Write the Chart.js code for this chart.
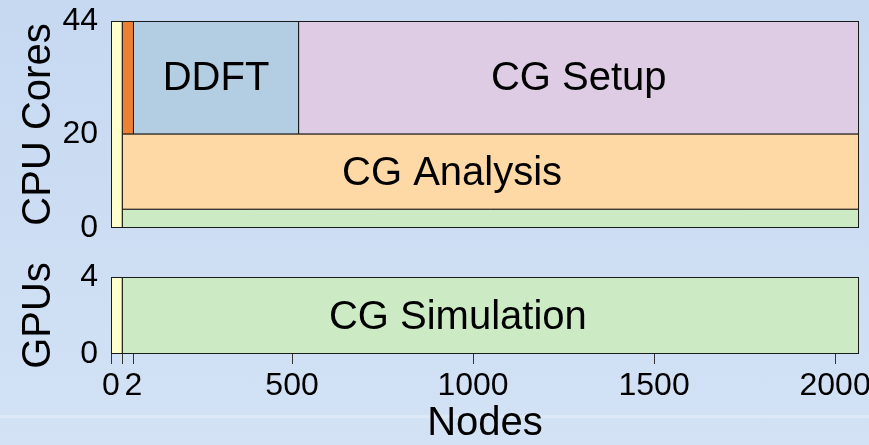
<!DOCTYPE html>
<html>
<head>
<meta charset="utf-8">
<script src="https://cdn.jsdelivr.net/npm/chart.js@4/dist/chart.umd.min.js"></script>
<style>
html, body { margin: 0; padding: 0; }
body { width: 869px; height: 445px; overflow: hidden; position: relative;
       background: linear-gradient(#c6d9f1, #d3e2f5); }
.band { position: absolute; left: 0; top: 415px; width: 869px; height: 3px; background: rgba(255,255,255,0.25); }
canvas { position: absolute; left: 0; }
#cpuChart { top: 0; }
#gpuChart { top: 245px; }
</style>
</head>
<body>
<div class="band"></div>
<canvas id="cpuChart" width="869" height="260"></canvas>
<canvas id="gpuChart" width="869" height="200"></canvas>
<script>
// x axis: node counts (first two nodes drawn wide, as in the original figure)
const xMax = 2066;
const xTickValues = [0, 31, 62, 500, 1000, 1500, 2000];
const xTickLabels = ['0', '', '2', '500', '1000', '1500', '2000'];

// CPU panel
const cpuTicks = [0, 20, 44];
const cpuNames = ['', '', 'DDFT', 'CG Setup', 'CG Analysis', ''];
const cpuStart = [0, 31, 62, 518, 31, 31];
const cpuEnd   = [31, 62, 518, 2066, 2066, 2066];
const cpuLow   = [0, 20, 20, 20, 4, 0];
const cpuHigh  = [44, 44, 44, 44, 20, 4];
const cpuLabelAt = [null, null, 290, 1292, 942, null];

// GPU panel
const gpuTicks = [0, 4];
const gpuNames = ['', 'CG Simulation'];
const gpuStart = [0, 31];
const gpuEnd   = [31, 2066];
const gpuLow   = [0, 0];
const gpuHigh  = [4, 4];
const gpuLabelAt = [null, 958];

const cpuColors = ['#ffffcc', '#ef7f33', '#b3cde3', '#decbe4', '#fed9a6', '#ccebc5'];
const gpuColors = ['#ffffcc', '#ccebc5'];

Chart.defaults.font.family = "'Liberation Sans', Arial, sans-serif";
Chart.defaults.color = '#000';

const frame = {
    id: 'frame',
    afterDatasetsDraw(chart) {
        const a = chart.chartArea, ctx = chart.ctx;
        ctx.save();
        ctx.strokeStyle = '#1a1a1a'; ctx.lineWidth = 1;
        ctx.strokeRect(Math.round(a.left) + 0.5, Math.round(a.top) + 0.5, Math.round(a.right - a.left) - 1, Math.round(a.bottom - a.top) - 1);
        // task names
        const o = chart.options.plugins.frame;
        const xs = chart.scales.x, ys = chart.scales.y;
        ctx.fillStyle = '#000';
        ctx.font = "40px 'Liberation Sans', Arial, sans-serif";
        ctx.textAlign = 'center'; ctx.textBaseline = 'middle';
        o.names.forEach((n, i) => {
            if (!n) return;
            ctx.fillText(n, xs.getPixelForValue(o.at[i]), ys.getPixelForValue((o.low[i] + o.high[i]) / 2) + 2);
        });
        ctx.restore();
    }
};

function rects(start, end, low, high, colors) {
    return start.map((s, i) => ({
        data: [{x: s, y: low[i]}, {x: end[i], y: low[i]}, {x: end[i], y: high[i]}, {x: s, y: high[i]}, {x: s, y: low[i]}],
        showLine: true, fill: 'shape', tension: 0,
        backgroundColor: colors[i], borderColor: '#1a1a1a', borderWidth: 1, pointRadius: 0
    }));
}

function yAxis(max, ticks, title) {
    return {
        type: 'linear', min: 0, max: max,
        afterBuildTicks: s => { s.ticks = ticks.map(v => ({value: v})); },
        afterFit: s => { s.width = 111; s.paddingTop = 0; s.paddingBottom = 0; },
        ticks: { font: {size: 32}, padding: 13, color: '#000' },
        grid: { display: false, drawTicks: false },
        border: { display: false },
        title: { display: true, text: title, font: {size: 40, lineHeight: 1}, padding: {top: 19, bottom: 0}, color: '#000' }
    };
}

function xAxis(show) {
    return {
        type: 'linear', min: 0, max: xMax, display: show,
        afterBuildTicks: s => { s.ticks = xTickValues.map(v => ({value: v})); },
        afterFit: s => { if (show) s.height = 91; s.paddingLeft = 0; s.paddingRight = 0; },
        ticks: { autoSkip: false, maxRotation: 0, font: {size: 32}, padding: 3, color: '#000',
                 callback: v => xTickLabels[xTickValues.indexOf(v)] },
        grid: { drawOnChartArea: false, tickLength: 10, color: '#333' },
        border: { display: false },
        title: { display: true, text: 'Nodes', font: {size: 40, lineHeight: 1}, padding: {top: 0, bottom: 1}, color: '#000' }
    };
}

const common = { responsive: false, animation: false, events: [] };

new Chart(document.getElementById('cpuChart'), {
    type: 'scatter',
    data: { datasets: rects(cpuStart, cpuEnd, cpuLow, cpuHigh, cpuColors) },
    options: { ...common,
        layout: { padding: {top: 21, right: 10, bottom: 32, left: 0} },
        scales: { x: xAxis(false), y: yAxis(44, cpuTicks, 'CPU Cores') },
        plugins: { legend: {display: false}, tooltip: {enabled: false},
                   frame: { names: cpuNames, at: cpuLabelAt, low: cpuLow, high: cpuHigh } }
    },
    plugins: [frame]
});

new Chart(document.getElementById('gpuChart'), {
    type: 'scatter',
    data: { datasets: rects(gpuStart, gpuEnd, gpuLow, gpuHigh, gpuColors) },
    options: { ...common,
        layout: { padding: {top: 32, right: 10, bottom: 0, left: 0} },
        scales: { x: xAxis(true), y: yAxis(4, gpuTicks, 'GPUs') },
        plugins: { legend: {display: false}, tooltip: {enabled: false},
                   frame: { names: gpuNames, at: gpuLabelAt, low: gpuLow, high: gpuHigh } }
    },
    plugins: [frame]
});
</script>
</body>
</html>
